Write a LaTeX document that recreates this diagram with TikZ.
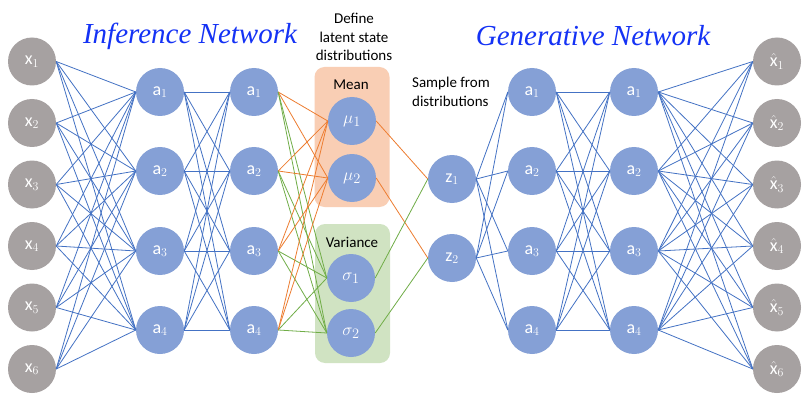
\documentclass[tikz,border=0pt]{standalone}
\usepackage{fontspec}
\setmainfont{Carlito}
\newfontfamily\titlefont{Liberation Serif}
\definecolor{nblue}{RGB}{133,160,214}
\definecolor{ngray}{RGB}{166,161,161}
\definecolor{lblue}{RGB}{68,114,196}
\definecolor{lorange}{RGB}{237,125,49}
\definecolor{lgreen}{RGB}{112,173,71}
\definecolor{meanfill}{RGB}{249,206,180}
\definecolor{varfill}{RGB}{208,227,194}
\definecolor{titleblue}{RGB}{20,50,245}
\begin{document}
\begin{tikzpicture}[x=1pt,y=-1pt,
  neur/.style={circle, fill=nblue, minimum size=48pt, inner sep=0pt, text=white, font=\fontsize{18}{18}\selectfont},
  inp/.style={neur, fill=ngray},
  bl/.style={draw=lblue, line width=0.8pt},
  ol/.style={draw=lorange, line width=0.8pt},
  gl/.style={draw=lgreen, line width=0.8pt},
  latbox/.style={rounded corners=10pt, minimum width=75pt, inner sep=0pt},
  ttl/.style={font=\titlefont\itshape\fontsize{29}{29}\selectfont, text=titleblue},
  note/.style={font=\fontsize{15}{18.5}\selectfont, text=black}]
\fill[white] (0,0) rectangle (811,401);
\useasboundingbox (0,0) rectangle (811,401);
% latent boxes
\node[latbox, fill=meanfill, minimum height=140pt] (meanbox) at (352,137) {};
\node[latbox, fill=varfill, minimum height=139pt] (varbox) at (352.5,293.5) {};
\node[note] (meanlbl) at (351,85) {Mean};
\node[note] (varlbl) at (352,242) {Variance};
% titles and notes
\node[ttl] (t1) at (190,36) {Inference Network};
\node[ttl] (t2) at (593,36) {Generative Network};
\node[note, align=center] (n1) at (354,37) {Define\\latent state\\distributions};
\node[note, align=left] (n2) at (451,92) {Sample from\\distributions};
% nodes
\foreach \i/\y in {1/61.5,2/123,3/184.5,4/246,5/307.5,6/369}{
  \node[inp] (x\i) at (32,\y) {x$_{\i}$};
  \node[inp] (y\i) at (777,\y) {$\hat{\hbox{x}}_{\i}$};
}
\foreach \i/\y in {1/92,2/171,3/251,4/330}{
  \node[neur] (p\i) at (160,\y) {a$_{\i}$};
  \node[neur] (q\i) at (254,\y) {a$_{\i}$};
  \node[neur] (g\i) at (532,\y) {a$_{\i}$};
  \node[neur] (h\i) at (634,\y) {a$_{\i}$};
}
\node[neur, font=\fontsize{19}{19}\selectfont] (m1) at (352,121) {$\mu_1$};
\node[neur, font=\fontsize{19}{19}\selectfont] (m2) at (352,178) {$\mu_2$};
\node[neur, font=\fontsize{19}{19}\selectfont] (s1) at (351,278) {$\sigma_1$};
\node[neur, font=\fontsize{19}{19}\selectfont] (s2) at (351,333) {$\sigma_2$};
\node[neur] (z1) at (452,179) {z$_1$};
\node[neur] (z2) at (452,258) {z$_2$};
% connections
\foreach \i in {1,...,6}{\foreach \j in {1,...,4}{
  \draw[bl] (x\i.east) -- (p\j.west);
  \draw[bl] (h\j.east) -- (y\i.west);
}}
\foreach \i in {1,...,4}{\foreach \j in {1,...,4}{
  \draw[bl] (p\i.east) -- (q\j.west);
  \draw[bl] (g\i.east) -- (h\j.west);
}}
\foreach \i in {1,...,4}{\foreach \j in {1,2}{
  \draw[ol] (q\i.east) -- (m\j.west);
  \draw[gl] (q\i.east) -- (s\j.west);
  \draw[bl] (z\j.east) -- (g\i.west);
}}
\draw[ol] (m1.east) -- (z1.west);
\draw[ol] (m2.east) -- (z2.west);
\draw[gl] (s1.east) -- (z1.west);
\draw[gl] (s2.east) -- (z2.west);
\end{tikzpicture}
\end{document}
